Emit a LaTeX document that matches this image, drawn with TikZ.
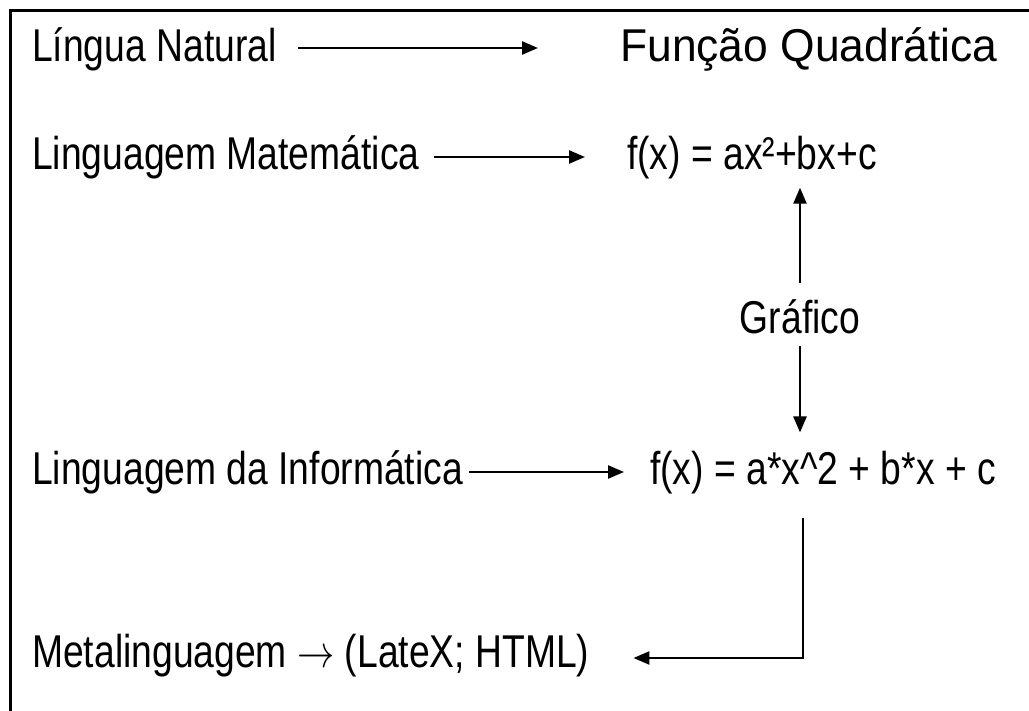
\documentclass[tikz,border=0pt]{standalone}
\usepackage{fix-cm}
\usepackage{fontspec}
\setmainfont{Liberation Sans}[FakeStretch=0.81]
\newfontfamily\widefam{Liberation Sans}[FakeStretch=0.965]
\usetikzlibrary{arrows.meta}
\begin{document}
\begin{tikzpicture}[x=1pt,y=-1pt,
  lbl/.style={anchor=base west, inner sep=0pt, font=\fontsize{46}{50}\selectfont},
  conn/.style={line width=2.4pt, line join=miter, -{Triangle[length=16pt,width=13pt]}},
  frame/.style={line width=3pt}]
\useasboundingbox (0,0) rectangle (1029,711);
% open frame running off the right and bottom edges
\draw[frame] (10,716) -- (10,11) -- (1034,11);

% labels
\node[lbl] (ln) at (32,62)  {Língua Natural};
\node[lbl] (fq) at (620,62) {\widefam Função Quadrática};
\node[lbl] (lm) at (32,170) {Linguagem Matemática};
\node[lbl] (fm) at (627,170) {f(x) = ax²+bx+c};
\node[lbl, anchor=base] (gr) at (800,334) {Gráfico};
\node[lbl] (li) at (32,484) {Linguagem da Informática};
\node[lbl] (fi) at (650,484) {f(x) = a*x\textasciicircum 2 + b*x + c};
\node[lbl] (ml) at (32,667) {Metalinguagem \scalebox{0.81}[1]{$\rightarrow$} (LateX; HTML)};

% horizontal arrows
\draw[conn] ([shift={(21pt,14pt)}]ln.base east) -- ([shift={(-82pt,14pt)}]fq.base west);
\draw[conn] ([shift={(14pt,13pt)}]lm.base east) -- ([shift={(-42pt,13pt)}]fm.base west);
\draw[conn] ([shift={(6pt,12pt)}]li.base east) -- ([shift={(-26pt,12pt)}]fi.base west);

% arrows around the graph label
\draw[conn] ([yshift=17pt]gr.north) -- ([yshift=-8pt]gr.north |- fm.south);
\draw[conn] ([yshift=-11pt]gr.south) -- ([yshift=18pt]gr.south |- fi.north);

% elbow down to the metalanguage line
\draw[conn] ([shift={(3pt,-24pt)}]gr.south |- fi.south) |- ([shift={(44pt,9pt)}]ml.base east);
\end{tikzpicture}
\end{document}
